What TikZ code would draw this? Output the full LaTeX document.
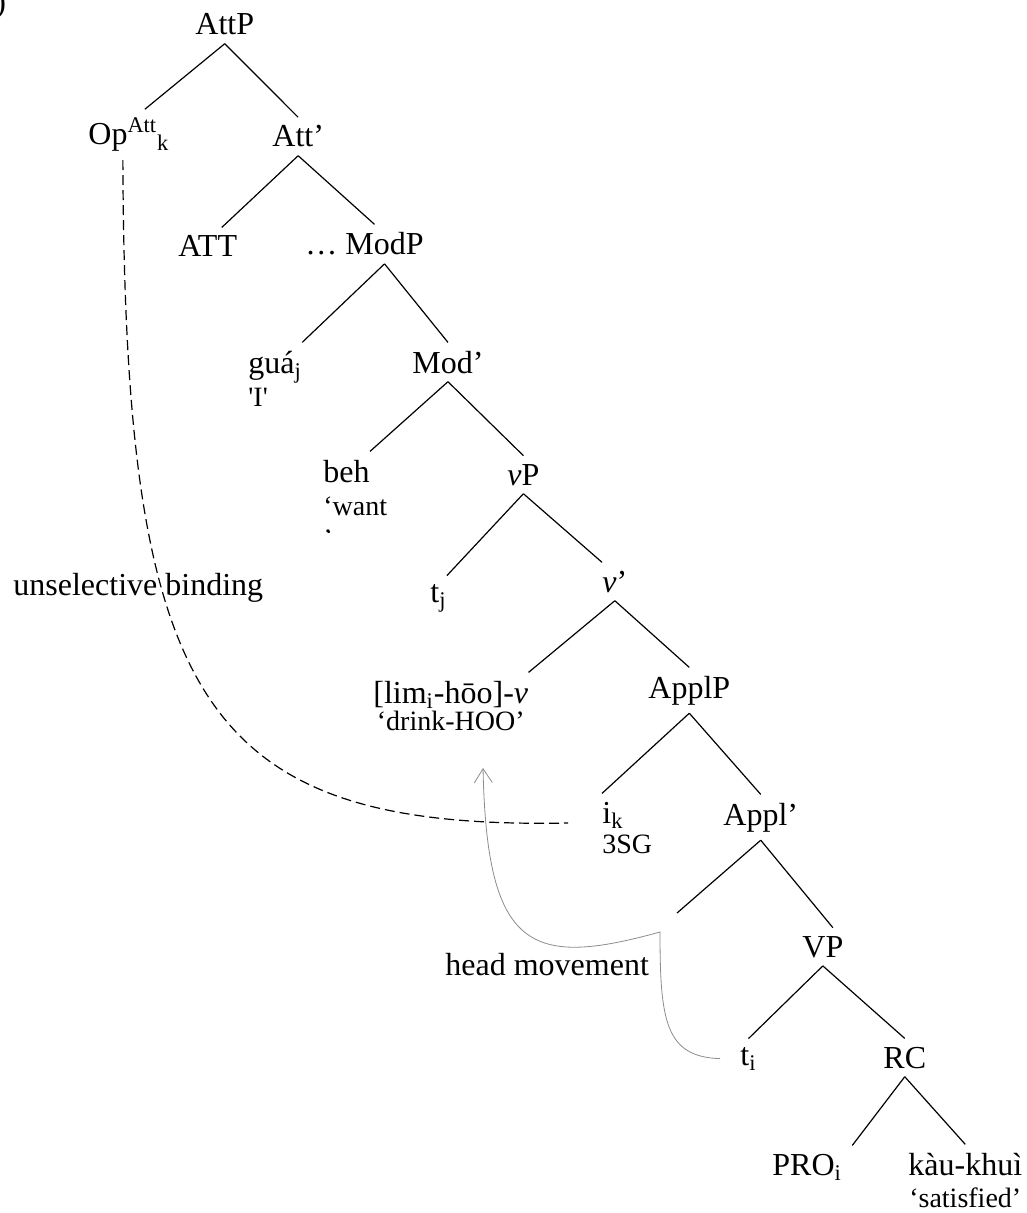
\documentclass[tikz,border=0pt]{standalone}
\usepackage{fontspec}
\setmainfont{Liberation Serif}
\usetikzlibrary{arrows.meta,positioning}

\begin{document}
\begin{tikzpicture}[x=0.5pt, y=-0.5pt,
    every node/.style={font=\fontsize{16}{19}\selectfont, inner xsep=0pt, inner ysep=4pt},
    cat/.style={anchor=base west},
    gloss/.style={anchor=base west, font=\fontsize{14}{17}\selectfont},
    branch/.style={line width=0.6pt},
    binding/.style={dash pattern=on 5pt off 2.5pt, line width=0.6pt},
    movement/.style={draw=black!45, line width=0.4pt, -{Straight Barb[length=7pt,width=9pt]}}]
      \useasboundingbox (0,0) rectangle (1026,1213);

      % Example number
      \node[cat] (num) at (-5,13) {)};

      % Upper tree
      \node[cat] (attp) at (195,35) {AttP};
      \node[cat] (op) at (88,145) {Op\textsuperscript{Att}\textsubscript{k}};
      \node[cat] (attbar) at (272,147) {Att’};
      \node[cat] (att) at (178,257) {ATT};
      \node[cat] (modp) at (345,255) {\llap{…\ }ModP};
      \node[cat] (gua) at (248,373) {guá\textsubscript{j}};
      \node[gloss] (guagl) at ([yshift=-17pt]gua.base west) {\textquotesingle I\textquotesingle};
      \node[cat] (modbar) at (412,373) {Mod’};
      \node[cat] (beh) at (323,482) {beh};
      \node[gloss] (behgl) at ([yshift=-16.5pt]beh.base west) {‘want};
      \begin{scope}
        \clip (300,520) rectangle (420,532);
        \node[gloss] (behq) at ([yshift=-16.5pt]behgl.base west) {’};
      \end{scope}

      % Lower tree
      \node[cat] (vp) at (507,485) {\textit{v}P};
      \node[cat] (tj) at (430,602) {t\textsubscript{j}};
      \node[cat] (vbar) at (602,592) {\textit{v}’};
      \node[cat] (lim) at (373,703) {[lim\textsubscript{i}-hōo]-\textit{v}};
      \node[gloss, anchor=base] (limgl) at ([yshift=-13.5pt]lim.base) {‘drink-HOO’};
      \node[cat] (applp) at (648,698) {ApplP};
      \node[cat] (ik) at (602,823) {i\textsubscript{k}};
      \node[gloss] (ikgl) at ([yshift=-15pt]ik.base west) {3SG};
      \node[cat] (applbar) at (723,825) {Appl’};
      \coordinate (hd) at (677,913);
      \node[cat] (vpp) at (802,957) {VP};
      \node[cat] (ti) at (740,1065) {t\textsubscript{i}};
      \node[cat] (rc) at (883,1068) {RC};
      \node[cat] (pro) at (772,1175) {PRO\textsubscript{i}};
      \node[cat] (kau) at (908,1175) {kàu-khuì};
      \node[gloss, anchor=base] (kaugl) at ([yshift=-16pt]kau.base) {‘satisfied’};

      % Labels
      \node[cat] (ub) at (13,595) {unselective binding};
      \node[cat] (hm) at (445,975) {head movement};

      % Branches
      \draw[branch] (attp.south) -- ([xshift=8pt]op.north);
      \draw[branch] (attp.south) -- (attbar.north);
      \draw[branch] (attbar.south) -- ([xshift=7pt]att.north);
      \draw[branch] (attbar.south) -- ([xshift=-5pt]modp.north);
      \draw[branch] (modp.south) -- (gua.north east);
      \draw[branch] (modp.south) -- (modbar.north);
      \draw[branch] (modbar.south) -- (beh.north east);
      \draw[branch] (modbar.south) -- (vp.north);
      \draw[branch] (vp.south) -- (tj.north east);
      \draw[branch] (vp.south) -- (vbar.north west);
      \draw[branch] (vbar.south) -- (lim.north east);
      \draw[branch] (vbar.south) -- (applp.north);
      \draw[branch] (applp.south) -- (ik.north west);
      \draw[branch] (applp.south) -- (applbar.north);
      \draw[branch] (applbar.south) -- (hd);
      \draw[branch] (applbar.south) -- ([xshift=5pt]vpp.north);
      \draw[branch] (vpp.south) -- (ti.north);
      \draw[branch] (vpp.south) -- (rc.north);
      \draw[branch] (rc.south) -- ([xshift=5pt]pro.north east);
      \draw[branch] (rc.south) -- (kau.north);

      % Binding and movement
      \draw[binding] ([xshift=-3pt]op.south) .. controls (125,700) and (200,830) .. ([xshift=-17pt]ik.base west);
      \coordinate (kink) at (660,932);
      \coordinate (land) at (483,768);
      \draw[movement] ([xshift=-10pt]ti.west) .. controls (665,1057) and (660,1020) .. (kink)
        .. controls (530,968) and (487,950) .. (land);
    \end{tikzpicture}
\end{document}
